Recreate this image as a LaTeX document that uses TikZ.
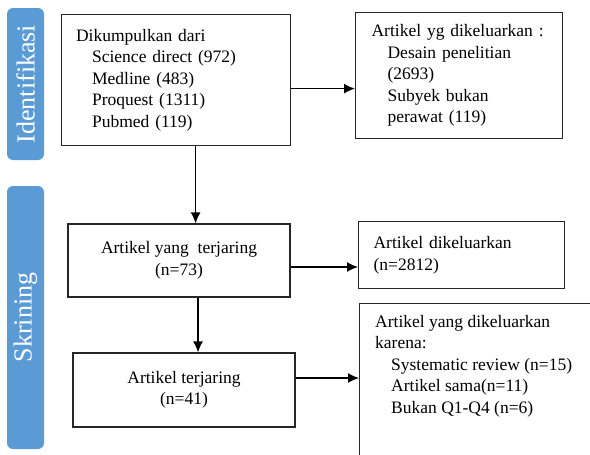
\documentclass[tikz,border=0pt]{standalone}
\usepackage{fontspec}
\setmainfont{Liberation Serif}
\usetikzlibrary{arrows.meta}
\definecolor{tabblue}{HTML}{5B9BD5}
\newcommand{\ind}{\hspace*{16pt}}

\begin{document}
\begin{tikzpicture}
	[x=1pt,y=-1pt,
	box/.style={draw=black!85,line width=1.2pt,inner sep=0pt,fill=white,align=left,font=\fontsize{17.5}{21.5}\selectfont},
	tab/.style={rounded corners=6pt,fill=tabblue,text=white,rotate=90,inner sep=0pt,font=\fontsize{26}{28}\selectfont},
	arr/.style={-{Latex[length=11pt,width=10pt]},line width=1.3pt}]
	\useasboundingbox (0,0) rectangle (590,455);
	\clip (0,0) rectangle (590,455);
	% side tabs
	\node[tab,minimum width=152,minimum height=37] (ident) at (25.5,84) {Identifikasi};
	\node[tab,minimum width=263,minimum height=37] (skrin) at (25.5,317.5) {Skrining};
	% main column
	\node[box,anchor=north west,minimum width=229,minimum height=131,text width=200] (cari) at (61,14)
		{Dikumpulkan dari\\ \ind Science direct (972)\\ \ind Medline (483)\\ \ind Proquest (1311)\\ \ind Pubmed (119)};
	\node[box,align=center,minimum width=222,minimum height=73] (jaring) at (179,260.5)
		{Artikel yang \ terjaring\\ (n=73)};
	\node[box,align=center,minimum width=222,minimum height=74] (akhir) at (184,390)
		{Artikel terjaring\\ (n=41)};
	% excluded boxes
	\node[box,anchor=north west,minimum width=207,minimum height=126,text width=175] (keluar) at (355,12)
		{Artikel yg dikeluarkan :\\ \ind Desain penelitian\\ \ind (2693)\\ \ind Subyek bukan\\ \ind perawat (119)};
	\node[box,anchor=north west,minimum width=206,minimum height=67,text width=176] (keluardua) at (358,221)
		{Artikel dikeluarkan\\ (n=2812)};
	\node[box,anchor=north west,minimum width=260,minimum height=170] (keluartiga) at (359,303) {};
	\node[anchor=north west,align=left,inner sep=0pt,font=\fontsize{17.5}{21.5}\selectfont] (alasan) at ([xshift=16pt,yshift=-12pt]keluartiga.north west)
		{Artikel yang dikeluarkan\\ karena:\\ \ind Systematic review (n=15)\\ \ind Artikel sama(n=11)\\ \ind Bukan Q1-Q4 (n=6)};
	% arrows
	\draw[arr] ([xshift=19.5pt]cari.south) coordinate (a1) -- (a1 |- jaring.north);
	\draw[arr] ([xshift=19pt]jaring.south) coordinate (a2) -- (a2 |- akhir.north);
	\draw[arr] ([yshift=-8.5pt]cari.east) coordinate (b1) -- (keluar.west |- b1);
	\draw[arr] ([yshift=-6.5pt]jaring.east) coordinate (b2) -- (keluardua.west |- b2);
	\draw[arr] ([yshift=12pt]akhir.east) coordinate (b3) -- (keluartiga.west |- b3);
\end{tikzpicture}
\end{document}
